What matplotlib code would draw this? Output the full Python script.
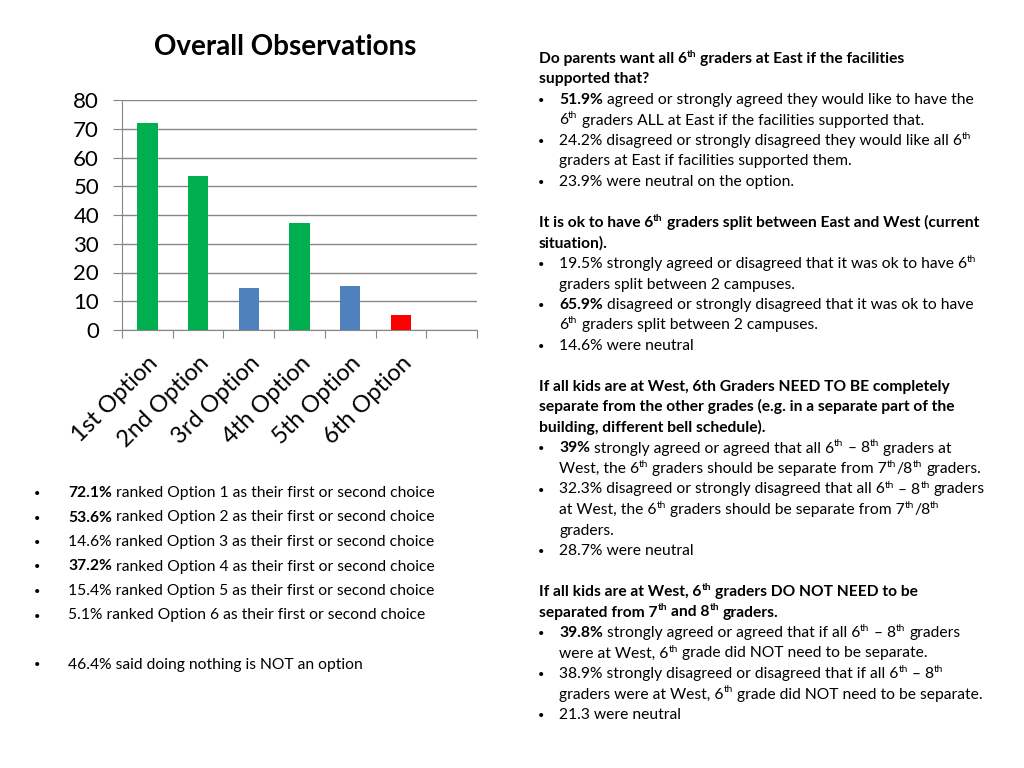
import re
import matplotlib
matplotlib.use("Agg")
import matplotlib.pyplot as plt
from matplotlib.transforms import ScaledTranslation

W, H = 1024, 768
FONT = "Lato"
BODY = 11.25

# chart data
options = ["1st Option", "2nd Option", "3rd Option", "4th Option", "5th Option", "6th Option"]
pct_first_second = [72.1, 53.6, 14.6, 37.2, 15.4, 5.1]
bar_colors = ["#00B050", "#00B050", "#4F81BD", "#00B050", "#4F81BD", "#FF0000"]
y_ticks = [0, 10, 20, 30, 40, 50, 60, 70, 80]

# bullet list under the chart ("" = blank line)
left_notes = [
    "**72.1%** ranked Option 1 as their first or second choice",
    "**53.6%** ranked Option 2 as their first or second choice",
    "14.6% ranked Option 3 as their first or second choice",
    "**37.2%** ranked Option 4 as their first or second choice",
    "15.4% ranked Option 5 as their first or second choice",
    "5.1% ranked Option 6 as their first or second choice",
    "",
    "46.4% said doing nothing is NOT an option",
]

# right column: (kind, text)  kind: H header, B bullet, C continuation, "" blank
right_notes = [
    ("H", "Do parents want all 6^{th} graders at East if the facilities"),
    ("H", "supported that?"),
    ("B", "**51.9%** agreed or strongly agreed they would like to have the"),
    ("C", "6^{th} graders ALL at East if the facilities supported that."),
    ("B", "24.2% disagreed or strongly disagreed they would like all 6^{th}"),
    ("C", "graders at East if facilities supported them."),
    ("B", "23.9% were neutral on the option."),
    ("", ""),
    ("H", "It is ok to have 6^{th} graders split between East and West (current"),
    ("H", "situation)."),
    ("B", "19.5% strongly agreed or disagreed that it was ok to have 6^{th}"),
    ("C", "graders split between 2 campuses."),
    ("B", "**65.9%** disagreed or strongly disagreed that it was ok to have"),
    ("C", "6^{th} graders split between 2 campuses."),
    ("B", "14.6% were neutral"),
    ("", ""),
    ("H", "If all kids are at West, 6th Graders NEED TO BE completely"),
    ("H", "separate from the other grades (e.g. in a separate part of the"),
    ("H", "building, different bell schedule)."),
    ("B", "**39%** strongly agreed or agreed that all 6^{th} \u2013 8^{th} graders at"),
    ("C", "West, the 6^{th} graders should be separate from 7^{th}/8^{th} graders."),
    ("B", "32.3% disagreed or strongly disagreed that all 6^{th} \u2013 8^{th} graders"),
    ("C", "at West, the 6^{th} graders should be separate from 7^{th}/8^{th}"),
    ("C", "graders."),
    ("B", "28.7% were neutral"),
    ("", ""),
    ("H", "If all kids are at West, 6^{th} graders DO NOT NEED to be"),
    ("H", "separated from 7^{th} and 8^{th} graders."),
    ("B", "**39.8%** strongly agreed or agreed that if all 6^{th} \u2013 8^{th} graders"),
    ("C", "were at West, 6^{th} grade did NOT need to be separate."),
    ("B", "38.9% strongly disagreed or disagreed that if all 6^{th} \u2013 8^{th}"),
    ("C", "graders were at West, 6^{th} grade did NOT need to be separate."),
    ("B", "21.3 were neutral"),
]

fig = plt.figure(figsize=(W / 100, H / 100), dpi=100)
renderer = fig.canvas.get_renderer()


def px(x, y):
    return x / W, 1 - y / H


def text_width(s, size, weight):
    t = fig.text(0, 0, s, fontsize=size, fontweight=weight, family=FONT)
    w = t.get_window_extent(renderer).width
    t.remove()
    return w


def space_width(size, weight):
    return text_width("a a", size, weight) - text_width("aa", size, weight)


def draw_line(x, y, text, bold=False, size=BODY):
    # y is the baseline in pixels from the top
    parts = re.split(r"(\*\*.*?\*\*|\^\{.*?\})", text)
    cx = x
    for p in parts:
        if not p:
            continue
        weight = "bold" if bold else "normal"
        fs, dy = size, 0
        if p.startswith("**"):
            p, weight = p[2:-2], "bold"
        elif p.startswith("^{"):
            p, fs, dy = p[2:-1], size * 0.65, 6
        lead = len(p) - len(p.lstrip(" "))
        trail = len(p) - len(p.rstrip(" "))
        sw = space_width(fs, weight)
        cx += lead * sw
        core = p.strip(" ")
        if core:
            fig.text(*px(cx, y - dy), core, fontsize=fs, fontweight=weight,
                     family=FONT, va="baseline", ha="left")
            cx += text_width(core, fs, weight)
        cx += trail * sw


def bullet(x, y):
    fig.text(*px(x, y - 4.5), "\u2022", fontsize=8, family=FONT,
             ha="center", va="center_baseline")


# --- chart ---
ax = fig.add_axes([122 / W, 1 - 330 / H, 355 / W, 230 / H])
xpos = [i + 0.5 for i in range(len(options))]
ax.bar(xpos, pct_first_second, width=0.4, color=bar_colors, zorder=3)
ax.set_xlim(0, 7)
ax.set_ylim(0, 80)
ax.set_yticks(y_ticks)
ax.set_yticklabels([str(v) for v in y_ticks], fontsize=16, family=FONT)
ax.yaxis.grid(True, color="#868686", linewidth=1, zorder=0)
ax.set_xticks(range(8))
ax.set_xticklabels([])
ax.set_xticks(xpos, minor=True)
ax.set_xticklabels(options, minor=True, rotation=45, ha="right",
                   rotation_mode="anchor", fontsize=17, family=FONT)
shift = ScaledTranslation(-3 / 100, 1 / 100, fig.dpi_scale_trans)
for lbl in ax.get_xticklabels(minor=True):
    lbl.set_transform(lbl.get_transform() + shift)
ax.tick_params(axis="x", which="major", length=6, color="#868686", direction="out")
ax.tick_params(axis="x", which="minor", length=0, pad=16)
ax.tick_params(axis="y", length=6.5, color="#868686", pad=10)
for s in ["top", "right"]:
    ax.spines[s].set_visible(False)
for s in ["left", "bottom"]:
    ax.spines[s].set_color("#868686")

fig.text(*px(285, 47), "Overall Observations", fontsize=20, fontweight="bold",
         family=FONT, ha="center", va="center")

# --- left bullets ---
y = 497
for line in left_notes:
    if line:
        bullet(37, y)
        draw_line(68, y, line)
    y += 24.5

# --- right column ---
y = 63
for kind, line in right_notes:
    if kind == "H":
        draw_line(539, y, line, bold=True)
    elif kind == "B":
        bullet(541, y)
        draw_line(559, y, line)
    elif kind == "C":
        draw_line(559, y, line)
    y += 20.5

fig.savefig("out.png", dpi=100)
